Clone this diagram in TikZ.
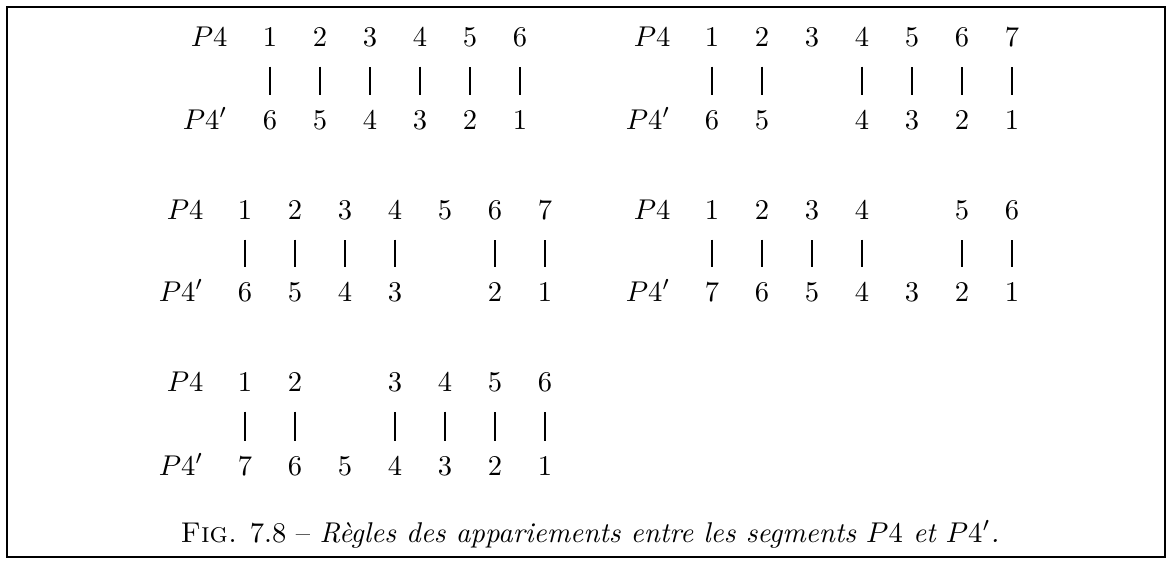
\documentclass[tikz,border=0pt]{standalone}
\begin{document}
\begin{tikzpicture}[x=0.35pt,y=-0.35pt,
  lbl/.style={anchor=base east,inner sep=0pt},
  num/.style={anchor=base,inner sep=0pt},
  bar/.style={line width=0.65pt,shorten <=7pt,shorten >=5pt},
  frame/.style={line width=0.9pt}]
\useasboundingbox (0,0) rectangle (1168,562);
\draw[frame] (7,7) rectangle (1165,557);
% ---------- block A (row 1, left)
\node[lbl] (aP) at (228,46) {$P4$};
\node[lbl] (aQ) at (228,129) {$P4'$};
\foreach \k/\v in {0/1,1/2,2/3,3/4,4/5,5/6} \node[num] (aT\k) at (270+50*\k,46) {\v};
\foreach \k/\v in {0/6,1/5,2/4,3/3,4/2,5/1} \node[num] (aB\k) at (270+50*\k,129) {\v};
\foreach \k in {0,1,2,3,4,5} \draw[bar] (aT\k.south) -- (aB\k.north);
% ---------- block B (row 1, right)
\node[lbl] (bP) at (671,46) {$P4$};
\node[lbl] (bQ) at (671,129) {$P4'$};
\foreach \k/\v in {0/1,1/2,2/3,3/4,4/5,5/6,6/7} \node[num] (bT\k) at (712+50*\k,46) {\v};
\foreach \k/\v in {0/6,1/5,3/4,4/3,5/2,6/1} \node[num] (bB\k) at (712+50*\k,129) {\v};
\foreach \k in {0,1,3,4,5,6} \draw[bar] (bT\k.south) -- (bB\k.north);
% ---------- block C (row 2, left)
\node[lbl] (cP) at (204,219) {$P4$};
\node[lbl] (cQ) at (204,301) {$P4'$};
\foreach \k/\v in {0/1,1/2,2/3,3/4,4/5,5/6,6/7} \node[num] (cT\k) at (245+50*\k,219) {\v};
\foreach \k/\v in {0/6,1/5,2/4,3/3,5/2,6/1} \node[num] (cB\k) at (245+50*\k,301) {\v};
\foreach \k in {0,1,2,3,5,6} \draw[bar] (cT\k.south) -- (cB\k.north);
% ---------- block D (row 2, right)
\node[lbl] (dP) at (671,219) {$P4$};
\node[lbl] (dQ) at (671,301) {$P4'$};
\foreach \k/\v in {0/1,1/2,2/3,3/4,5/5,6/6} \node[num] (dT\k) at (712+50*\k,219) {\v};
\foreach \k/\v in {0/7,1/6,2/5,3/4,4/3,5/2,6/1} \node[num] (dB\k) at (712+50*\k,301) {\v};
\foreach \k in {0,1,2,3,5,6} \draw[bar] (dT\k.south) -- (dB\k.north);
% ---------- block E (row 3, left)
\node[lbl] (eP) at (204,391) {$P4$};
\node[lbl] (eQ) at (204,475) {$P4'$};
\foreach \k/\v in {0/1,1/2,3/3,4/4,5/5,6/6} \node[num] (eT\k) at (245+50*\k,391) {\v};
\foreach \k/\v in {0/7,1/6,2/5,3/4,4/3,5/2,6/1} \node[num] (eB\k) at (245+50*\k,475) {\v};
\foreach \k in {0,1,3,4,5,6} \draw[bar] (eT\k.south) -- (eB\k.north);
% ---------- caption
\node[anchor=base,inner sep=0pt] (cap) at (590,542) {\textsc{Fig.} 7.8 -- \textit{Règles des appariements entre les segments $P4$ et $P4'$.}};
\end{tikzpicture}
\end{document}
